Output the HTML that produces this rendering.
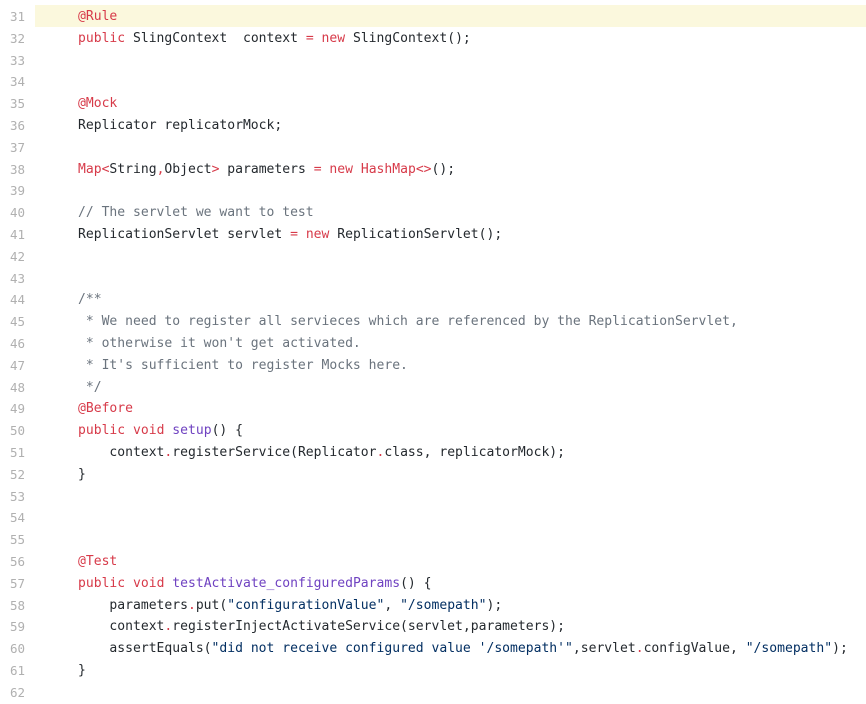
<!DOCTYPE html>
<html><head><meta charset="utf-8"><style>
body{margin:0;background:#fff;width:866px;height:697px;overflow:hidden;font-family:"DejaVu Sans Mono","Liberation Mono",monospace;font-size:13.05px;color:#24292e}
.w{position:absolute;top:6px;left:0;right:0}
.l{height:21.8px;line-height:21.8px;position:relative;white-space:pre}
.n{position:absolute;left:10px;color:#b0b0b0;font-size:12.5px}
.c{position:absolute;left:78px}
.hl{position:absolute;left:35px;right:0;top:-1px;height:22px;background:#fbf8dd}
.k{color:#d73a49}.f{color:#6f42c1}.s{color:#032f62}.m{color:#6a737d}
</style></head><body><div class="w">
<div class="l"><div class="hl"></div><span class="n">31</span><span class="c"><span class="k">@Rule</span></span></div>
<div class="l"><span class="n">32</span><span class="c"><span class="k">public</span> SlingContext  context <span class="k">=</span> <span class="k">new</span> SlingContext();</span></div>
<div class="l"><span class="n">33</span></div>
<div class="l"><span class="n">34</span></div>
<div class="l"><span class="n">35</span><span class="c"><span class="k">@Mock</span></span></div>
<div class="l"><span class="n">36</span><span class="c">Replicator replicatorMock;</span></div>
<div class="l"><span class="n">37</span></div>
<div class="l"><span class="n">38</span><span class="c"><span class="k">Map&lt;</span>String<span class="k">,</span>Object<span class="k">&gt;</span> parameters <span class="k">=</span> <span class="k">new</span> <span class="k">HashMap&lt;&gt;</span>();</span></div>
<div class="l"><span class="n">39</span></div>
<div class="l"><span class="n">40</span><span class="c"><span class="m">// The servlet we want to test</span></span></div>
<div class="l"><span class="n">41</span><span class="c">ReplicationServlet servlet <span class="k">=</span> <span class="k">new</span> ReplicationServlet();</span></div>
<div class="l"><span class="n">42</span></div>
<div class="l"><span class="n">43</span></div>
<div class="l"><span class="n">44</span><span class="c m">/**</span></div>
<div class="l"><span class="n">45</span><span class="c m"> * We need to register all servieces which are referenced by the ReplicationServlet,</span></div>
<div class="l"><span class="n">46</span><span class="c m"> * otherwise it won't get activated.</span></div>
<div class="l"><span class="n">47</span><span class="c m"> * It's sufficient to register Mocks here.</span></div>
<div class="l"><span class="n">48</span><span class="c m"> */</span></div>
<div class="l"><span class="n">49</span><span class="c"><span class="k">@Before</span></span></div>
<div class="l"><span class="n">50</span><span class="c"><span class="k">public</span> <span class="k">void</span> <span class="f">setup</span>() {</span></div>
<div class="l"><span class="n">51</span><span class="c">    context<span class="k">.</span>registerService(Replicator<span class="k">.</span>class, replicatorMock);</span></div>
<div class="l"><span class="n">52</span><span class="c">}</span></div>
<div class="l"><span class="n">53</span></div>
<div class="l"><span class="n">54</span></div>
<div class="l"><span class="n">55</span></div>
<div class="l"><span class="n">56</span><span class="c"><span class="k">@Test</span></span></div>
<div class="l"><span class="n">57</span><span class="c"><span class="k">public</span> <span class="k">void</span> <span class="f">testActivate_configuredParams</span>() {</span></div>
<div class="l"><span class="n">58</span><span class="c">    parameters<span class="k">.</span>put(<span class="s">"configurationValue"</span>, <span class="s">"/somepath"</span>);</span></div>
<div class="l"><span class="n">59</span><span class="c">    context<span class="k">.</span>registerInjectActivateService(servlet,parameters);</span></div>
<div class="l"><span class="n">60</span><span class="c">    assertEquals(<span class="s">"did not receive configured value '/somepath'"</span>,servlet<span class="k">.</span>configValue, <span class="s">"/somepath"</span>);</span></div>
<div class="l"><span class="n">61</span><span class="c">}</span></div>
<div class="l"><span class="n">62</span></div>
</div></body></html>
